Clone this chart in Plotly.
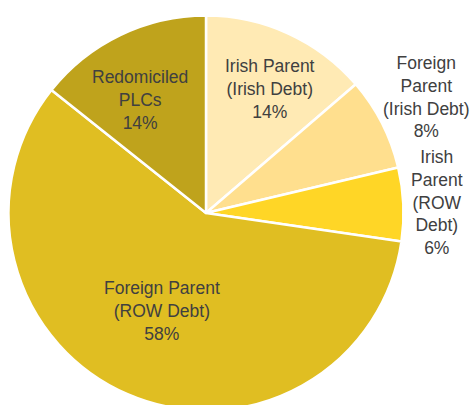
import plotly.graph_objects as go

# ---- data ----
categories = [
    "Irish Parent (Irish Debt)",
    "Foreign Parent (Irish Debt)",
    "Irish Parent (ROW Debt)",
    "Foreign Parent (ROW Debt)",
    "Redomiciled PLCs",
]
label_lines = [
    ["Irish Parent", "(Irish Debt)"],
    ["Foreign", "Parent", "(Irish Debt)"],
    ["Irish", "Parent", "(ROW", "Debt)"],
    ["Foreign Parent", "(ROW Debt)"],
    ["Redomiciled", "PLCs"],
]
values = [13.7, 7.6, 6.0, 58.4, 14.3]
colors = ["#FFEAB4", "#FFDF8E", "#FFD626", "#E0BE22", "#BFA31C"]

W, H = 472, 411
cx, cy, R = 206, 213, 197.5

fig = go.Figure(go.Pie(
    labels=categories,
    values=values,
    sort=False,
    direction="clockwise",
    rotation=0,
    marker=dict(colors=colors, line=dict(color="white", width=2.5)),
    textinfo="none",
    hoverinfo="label+percent",
    showlegend=False,
    domain=dict(x=[(cx - R) / W, (cx + R) / W], y=[max(0, 1 - (cy + R) / H), 1 - (cy - R) / H]),
))

# label placement (pixel centres)
label_pos = [(270, 89), (426, 97), (437, 202), (162, 311), (140, 100)]
total = sum(values)
for lines, v, (px, py) in zip(label_lines, values, label_pos):
    txt = "<br>".join(lines + [f"{round(100 * v / total)}%"])
    fig.add_annotation(
        x=px / W, y=1 - py / H, xref="paper", yref="paper",
        text=txt, showarrow=False, xanchor="center", yanchor="middle",
        align="center",
        font=dict(family="Liberation Sans, Arial, sans-serif", size=17.5, color="#404040"),
    )

fig.update_layout(
    width=W, height=H,
    margin=dict(l=0, r=0, t=0, b=0),
    paper_bgcolor="white", plot_bgcolor="white",
)

fig.write_html(
    "out.html",
    config={"displayModeBar": False},
    post_script="document.body.style.margin='0px';document.body.style.overflow='hidden';"
                "document.documentElement.style.overflow='hidden';",
)
